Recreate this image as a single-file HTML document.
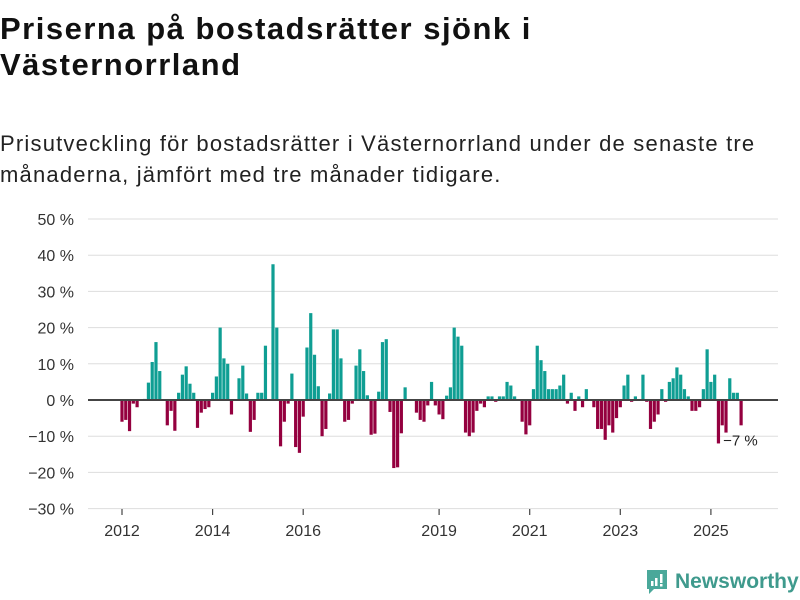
<!DOCTYPE html>
<html><head><meta charset="utf-8"><style>
body{margin:0;background:#fff;font-family:"Liberation Sans","DejaVu Sans",sans-serif;}
#wrap{position:relative;width:800px;height:600px;overflow:hidden;}
h1{position:absolute;left:0;top:11px;margin:0;font-size:31px;line-height:36px;font-weight:bold;color:#111;width:800px;letter-spacing:1.5px;white-space:nowrap;}
p.sub{position:absolute;left:0;top:128px;margin:0;font-size:22px;line-height:31px;color:#222;width:800px;letter-spacing:1.2px;white-space:nowrap;}
</style></head><body>
<div id="wrap">
<h1>Priserna på bostadsrätter sjönk i<br>Västernorrland</h1>
<p class="sub">Prisutveckling för bostadsrätter i Västernorrland under de senaste tre<br>månaderna, jämfört med tre månader tidigare.</p>
<svg id="chart" width="800" height="600" style="position:absolute;left:0;top:0"></svg>
<div style="position:absolute;left:645px;top:569px;display:flex;align-items:center;">
<svg width="24" height="26"><path d="M2 1h20v19h-13l-5 5v-5h-2z" fill="#4aa89a"/><rect x="6" y="12" width="2.5" height="5" fill="#fff"/><rect x="10" y="9" width="2.5" height="8" fill="#fff"/><rect x="15" y="5" width="2.5" height="9" fill="#fff"/><rect x="15" y="15" width="2.5" height="2.5" fill="#fff"/></svg>
<span style="font-size:21px;color:#3f9a8d;font-weight:bold;margin-left:6px;">Newsworthy</span>
</div>
</div>
<script>
const values = [-6,-5.5,-8.6,-1,-2,0,0.3,4.8,10.5,16,8,0,
-7,-3,-8.5,2,7,9.3,4.5,2,-7.7,-3.5,-2.5,-2,
2,6.5,20,11.5,10,-4,0,6,9.5,1.8,-8.8,-5.5,
2,2,15,0,37.5,20,-12.8,-6,-1,7.3,-13,-14.6,
-4.6,14.5,24,12.5,3.8,-10,-8,1.8,19.5,19.5,11.5,-6,
-5.5,-1,9.5,14,8,1.3,-9.6,-9.3,2.3,16,16.8,-3.3,
-18.8,-18.6,-9.2,3.5,0,0,-3.5,-5.5,-6,-1.5,5,-1.5,
-4,-5.3,1.2,3.5,20,17.5,15,-9,-10,-9,-3,-1,
-2,1,1,-0.5,1,1,5,4,1,0,-6,-9.5,
-7,3,15,11,8,3,3,3,4,7,-1,2,
-3,1,-2,3,0,-2,-8,-8,-11,-7,-9,-5,
-2,4,7,-0.5,1,0,7,-0.5,-8,-6,-4,3,
-0.5,5,6,9,7,3,1,-3,-3,-2,3,14,
5,7,-12,-7,-9,6,2,2,-7];
const yTicks = [50,40,30,20,10,0,-10,-20,-30];
const xTickYears = [2012,2014,2016,2019,2021,2023,2025];
const startYear = 2012;
const lastLabel = "\u22127 %";

const svg = document.getElementById('chart');
const NS = 'http://www.w3.org/2000/svg';
const yScale = v => 400 - v * 3.62;
const xScale = m => 122 + m * (45.3/12);
function el(tag, attrs){const e=document.createElementNS(NS,tag);for(const k in attrs)e.setAttribute(k,attrs[k]);svg.appendChild(e);return e;}
yTicks.forEach(t=>{
  const g=el('line',{x1:88,x2:778,y1:yScale(t),y2:yScale(t),stroke:'#dddddd','stroke-width':1});
  
  
  const tx=el('text',{x:74,y:yScale(t)+6,'text-anchor':'end','font-size':16,fill:'#333','font-family':'Liberation Sans, sans-serif'});
  tx.textContent=(t<0?'\u2212'+(-t):t)+' %';
  
  
});
values.forEach((v,i)=>{
  const x=xScale(i)-1.6;
  const y0=yScale(0), y1=yScale(v);
  const r=el('rect',{x:x,y:Math.min(y0,y1),width:3.2,height:Math.abs(y1-y0),fill:v>=0?'#0f9e93':'#94003f'});
  
  
});
const zl=el('line',{x1:88,x2:778,y1:yScale(0),y2:yScale(0),stroke:'#444','stroke-width':2});


xTickYears.forEach(yr=>{
  const x=xScale((yr-startYear)*12);
  const tk=el('line',{x1:x,x2:x,y1:509,y2:515,stroke:'#444','stroke-width':1.2});
  
  
  const tx=el('text',{x:x,y:536,'text-anchor':'middle','font-size':16,fill:'#333','font-family':'Liberation Sans, sans-serif'});
  tx.textContent=yr;
  
  
});
const li=values.length-1;
const lab=el('text',{x:xScale(li)-18,y:yScale(values[li])+20,'font-size':15,fill:'#222','font-family':'Liberation Sans, sans-serif'});
lab.textContent=lastLabel;


</script>
</body></html>
